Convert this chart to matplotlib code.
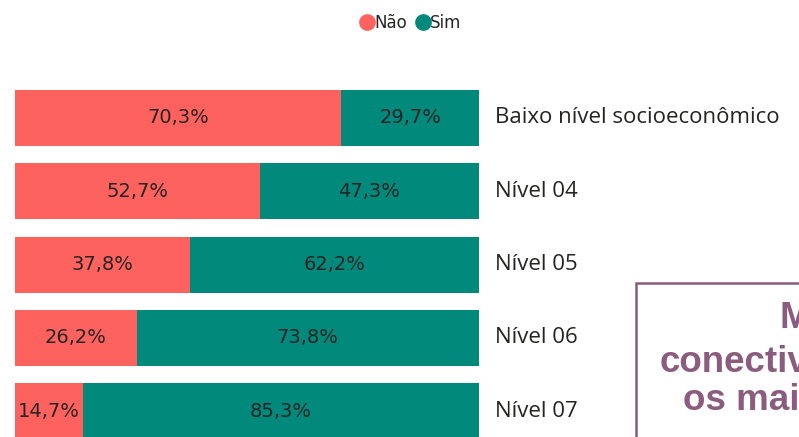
import matplotlib.pyplot as plt
from matplotlib.patches import Rectangle
from matplotlib.lines import Line2D

categories = ['Baixo nível socioeconômico', 'Nível 04', 'Nível 05', 'Nível 06', 'Nível 07']
nao = [70.3, 52.7, 37.8, 26.2, 14.7]
sim = [29.7, 47.3, 62.2, 73.8, 85.3]
box_lines = ['Maior', 'conectividade', 'os maiores']

c_nao = '#FD625E'
c_sim = '#01897C'
txt = '#252423'
purple = '#8B5C7E'

fig = plt.figure(figsize=(7.99, 4.37), dpi=100)
ax = fig.add_axes([15 / 799, 0, 464 / 799, 357 / 437])

y = list(range(len(categories)))
ax.barh(y, nao, height=0.764, color=c_nao)
ax.barh(y, sim, left=nao, height=0.764, color=c_sim)
ax.set_xlim(0, 100)
ax.set_ylim(4.352, -0.518)
ax.axis('off')

for i in y:
    ax.text(nao[i] / 2, i, f'{nao[i]:.1f}%'.replace('.', ','), ha='center', va='center',
            fontsize=14, color=txt)
    ax.text(nao[i] + sim[i] / 2, i, f'{sim[i]:.1f}%'.replace('.', ','), ha='center', va='center',
            fontsize=14, color=txt)
    ax.text(103.4, i, categories[i], ha='left', va='center', fontsize=16,
            color=txt, clip_on=False, family='Open Sans')

# legend
handles = [Line2D([], [], marker='o', ls='', color=c_nao, markersize=11),
           Line2D([], [], marker='o', ls='', color=c_sim, markersize=11)]
fig.legend(handles, ['Não', 'Sim'], loc='center', bbox_to_anchor=(411 / 799, 1 - 23 / 437),
           ncol=2, frameon=False, fontsize=12, handletextpad=0.05, columnspacing=0.5,
           handlelength=0.8, labelcolor=txt)

# text box, cut by the right edge
fig.patches.append(Rectangle((636 / 799, -0.1), 0.5, 1 - 283 / 437 + 0.1, transform=fig.transFigure,
                             fill=False, edgecolor=purple, lw=1.8))
xs = [780, 660, 683]
ys = [328, 372, 410]
for s, xp, yp in zip(box_lines, xs, ys):
    fig.text(xp / 799, 1 - yp / 437, s, ha='left', va='baseline', fontsize=26.5,
             fontweight='bold', color=purple, family='Liberation Sans')

fig.savefig('out.png', dpi=100)
